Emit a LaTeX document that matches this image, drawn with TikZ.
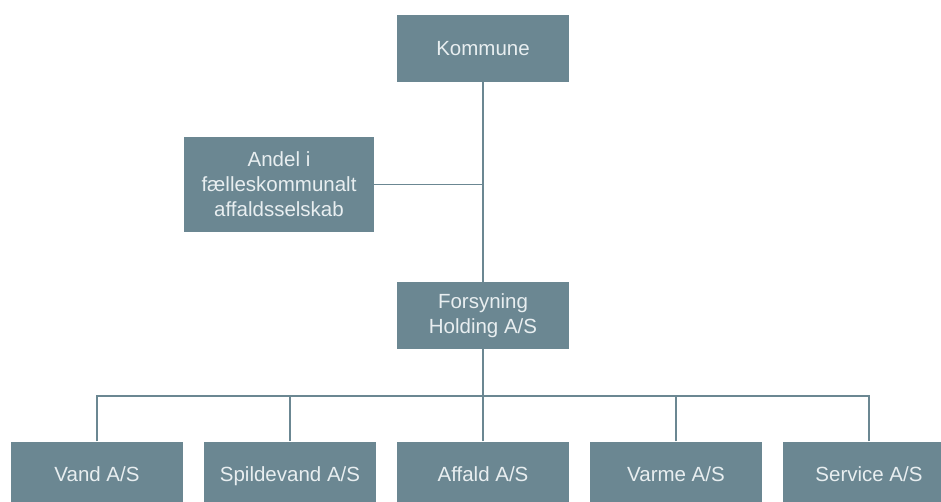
\documentclass[tikz,border=0pt]{standalone}
\usepackage{fontspec}
\setmainfont{Liberation Sans}
\usepackage{tikz}
\usetikzlibrary{calc}
\definecolor{slate}{RGB}{107,135,146}
\definecolor{paletext}{RGB}{232,238,240}

\begin{document}
\begin{tikzpicture}[x=1pt, y=-1pt,
  unit/.style={fill=slate, text=paletext, inner sep=0pt, align=center,
    minimum width=172pt, minimum height=67pt,
    font=\fontsize{20.5}{25}\selectfont},
  company/.style={unit, text height=16pt, text depth=3pt},
  link/.style={draw=slate, line width=1.6pt}]
  \useasboundingbox (0,0) rectangle (941,502);
  % top levels
  \node[unit] (kommune) at (483,48.5) {Kommune};
  \node[unit, minimum width=190pt, minimum height=95pt] (andel) at (279,184.5)
    {Andel i\\fælleskommunalt\\affaldsselskab};
  \node[unit] (holding) at (483,315.5) {Forsyning\\Holding A/S};
  % companies
  \node[company] (vand) at (97,475) {Vand A/S};
  \node[company] (spilde) at (290,475) {Spildevand A/S};
  \node[company] (affald) at (483,475) {Affald A/S};
  \node[company] (varme) at (676,475) {Varme A/S};
  \node[company] (service) at (869,475) {Service A/S};
  % connectors
  \draw[link] (kommune.south) -- (holding.north);
  \coordinate (join) at (kommune.south |- andel.east);
  \draw[link] (andel.east) -- (join);
  \coordinate (bar) at (483,396);
  \draw[link] (holding.south) -- (bar);
  \foreach \c in {vand, spilde, affald, varme, service}
    \draw[link] (\c.north) -- (\c.north |- bar) -- (bar);
\end{tikzpicture}
\end{document}
